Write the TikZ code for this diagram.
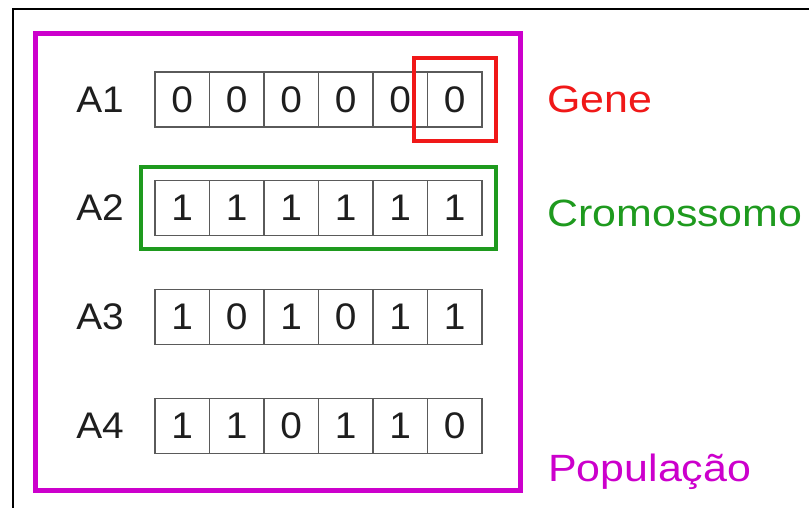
\documentclass[tikz,border=0pt]{standalone}
\usepackage{fontspec}
\setmainfont{Liberation Sans}
\usetikzlibrary{fit}
\definecolor{genered}{HTML}{F01818}
\definecolor{cromogreen}{HTML}{1E9A1E}
\definecolor{popmag}{HTML}{CC00CC}
\definecolor{cellgray}{HTML}{5A5A5A}
\definecolor{ink}{HTML}{1E1E1E}
% slightly wide lettering
\newcommand{\wideA}[1]{\scalebox{1.05}[1]{#1}}
\newcommand{\wideB}[1]{\scalebox{1.13}[1]{#1}}
\begin{document}
\begin{tikzpicture}[x=1pt,y=-1pt,
  cell/.style={draw=cellgray, line width=1.5pt, minimum width=54.5pt, minimum height=55pt,
    inner sep=0pt, text=ink, font=\fontsize{37}{40}\selectfont},
  rowlabel/.style={anchor=east, inner sep=0pt, text=ink, font=\fontsize{37}{40}\selectfont},
  tag/.style={anchor=base west, inner sep=0pt, font=\fontsize{38}{41}\selectfont},
  hilite/.style={draw, line width=4pt, inner sep=13pt}]
  \useasboundingbox (0,0) rectangle (809,507);
  \fill[white] (0,0) rectangle (809,507);
  % outer frame, running off the page on the right and bottom
  \begin{scope}
    \clip (0,0) rectangle (809,507);
    \draw[line width=2pt, black] (13,600) -- (13,9) -- (900,9);
  \end{scope}
  % population box
  \draw[popmag, line width=5pt] (35,33) rectangle (520,490);
  % chromosomes
  \foreach \r/\y/\bits in {1/99.5/{0,0,0,0,0,0}, 2/208/{1,1,1,1,1,1}, 3/317/{1,0,1,0,1,1}, 4/426/{1,1,0,1,1,0}} {
    \node[rowlabel] (lab\r) at (124,\y) {\wideA{A\r}};
    \foreach \b [count=\i] in \bits {
      \node[cell] (c\r-\i) at ({155+54.5*(\i-0.5)},\y) {\wideA{\b}};
    }
  }
  % gene and chromosome highlights
  \node[hilite, draw=genered, fit=(c1-6)] (gene) {};
  \node[hilite, draw=cromogreen, fit=(c2-1)(c2-6)] (crom) {};
  % legend
  \node[tag, text=genered] (tgene) at (547,112) {\wideB{Gene}};
  \node[tag, text=cromogreen] (tcrom) at (547,226) {\wideB{Cromossomo}};
  \node[tag, text=popmag] (tpop) at (548,481) {\wideB{População}};
\end{tikzpicture}
\end{document}
